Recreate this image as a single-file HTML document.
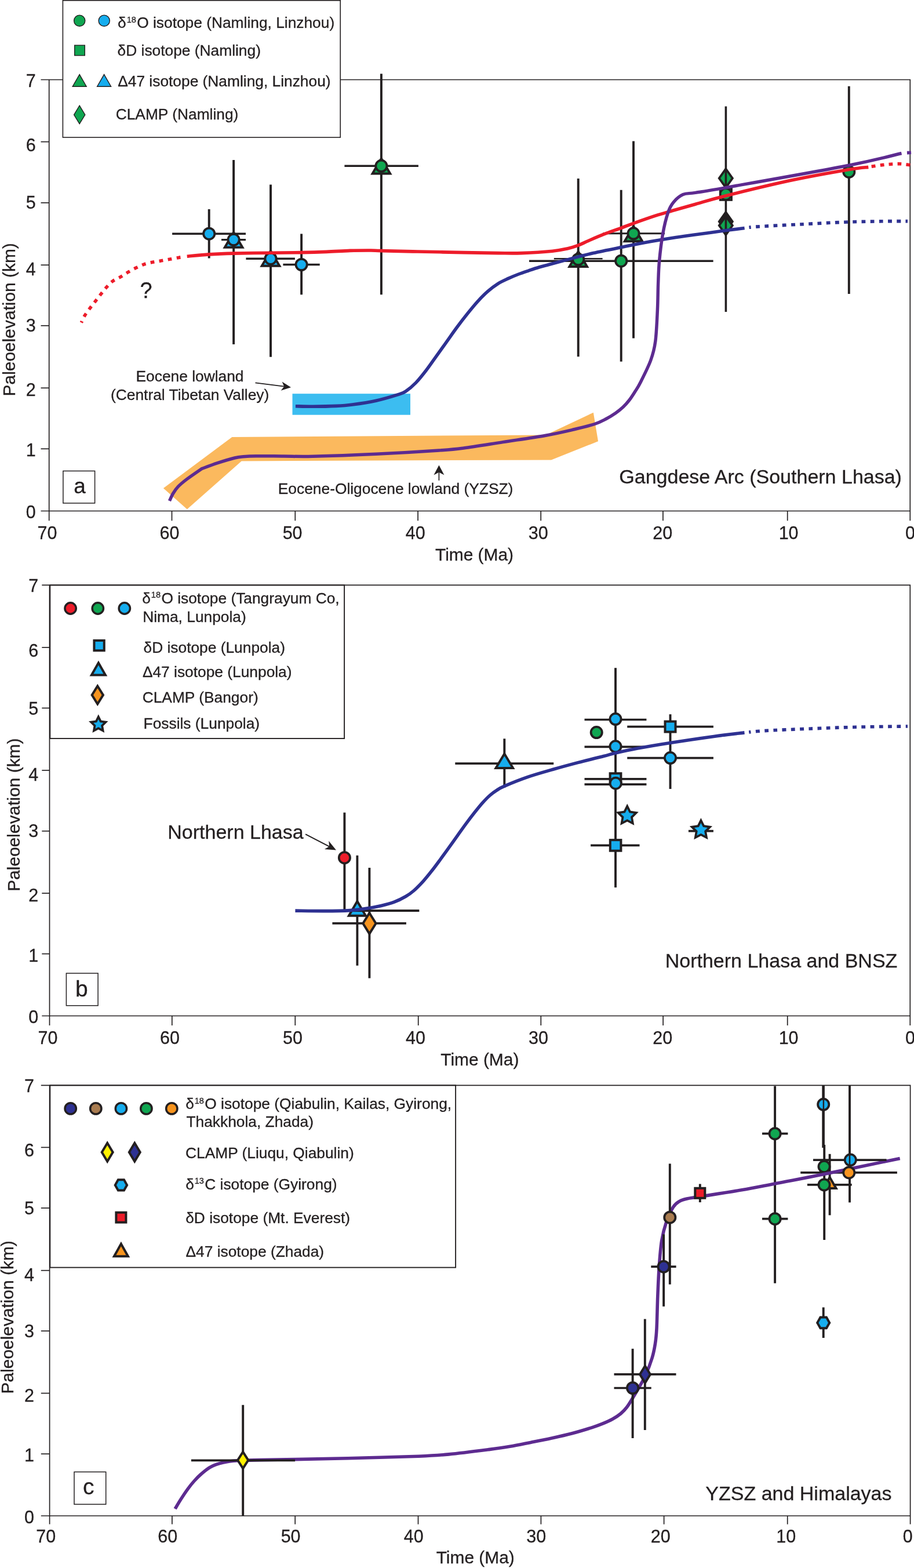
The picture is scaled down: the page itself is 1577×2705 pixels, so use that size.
<!DOCTYPE html>
<html lang="en"><head><meta charset="utf-8"><title>Paleoelevation history of the Gangdese Arc, northern Lhasa and Himalayas</title>
<style>html,body{margin:0;padding:0;background:#fff}body{width:1577px;height:2705px;overflow:hidden}svg{display:block}text{font-family:'Liberation Sans', 'DejaVu Sans', sans-serif;stroke:#231F20;stroke-width:0.3px}</style></head>
<body>
<svg width="1577" height="2705" viewBox="0 0 1577 2705">
<rect width="1577" height="2705" fill="#fff"/>
<g id="panel-a">
<path d="M281.9,842.2L400.4,754L941.6,750.4L1023.8,711.7L1032,761.3L951.1,793.4L416.7,795.4L322.8,878.4Z" fill="#FBB95E"/>
<rect x="504.5" y="679.2" width="203.5" height="36.5" fill="#3CBDF0"/>
<path d="M70.5,137.5 H1570.3 V898.3 H1570.3 M84.7,137.5 V898.3" fill="none" stroke="#231F20" stroke-width="1.7"/>
<path d="M70.5,881.5 H1570.3" fill="none" stroke="#231F20" stroke-width="1.7"/>
<line x1="70.5" y1="244.6" x2="84.7" y2="244.6" stroke="#231F20" stroke-width="1.7"/>
<line x1="70.5" y1="349.8" x2="84.7" y2="349.8" stroke="#231F20" stroke-width="1.7"/>
<line x1="70.5" y1="457.2" x2="84.7" y2="457.2" stroke="#231F20" stroke-width="1.7"/>
<line x1="70.5" y1="561.8" x2="84.7" y2="561.8" stroke="#231F20" stroke-width="1.7"/>
<line x1="70.5" y1="669.3" x2="84.7" y2="669.3" stroke="#231F20" stroke-width="1.7"/>
<line x1="70.5" y1="774.3" x2="84.7" y2="774.3" stroke="#231F20" stroke-width="1.7"/>
<line x1="296.5" y1="881.5" x2="296.5" y2="898.3" stroke="#231F20" stroke-width="1.7"/>
<line x1="509.3" y1="881.5" x2="509.3" y2="898.3" stroke="#231F20" stroke-width="1.7"/>
<line x1="721.1" y1="881.5" x2="721.1" y2="898.3" stroke="#231F20" stroke-width="1.7"/>
<line x1="933.2" y1="881.5" x2="933.2" y2="898.3" stroke="#231F20" stroke-width="1.7"/>
<line x1="1143.9" y1="881.5" x2="1143.9" y2="898.3" stroke="#231F20" stroke-width="1.7"/>
<line x1="1358.7" y1="881.5" x2="1358.7" y2="898.3" stroke="#231F20" stroke-width="1.7"/>
<text x="53.3" y="149.7" font-size="30.5" text-anchor="middle" fill="#231F20">7</text>
<text x="53.3" y="260.8" font-size="30.5" text-anchor="middle" fill="#231F20">6</text>
<text x="53.3" y="360.3" font-size="30.5" text-anchor="middle" fill="#231F20">5</text>
<text x="53.3" y="475.3" font-size="30.5" text-anchor="middle" fill="#231F20">4</text>
<text x="53.3" y="572.3" font-size="30.5" text-anchor="middle" fill="#231F20">3</text>
<text x="53.3" y="683.2" font-size="30.5" text-anchor="middle" fill="#231F20">2</text>
<text x="53.3" y="787.3" font-size="30.5" text-anchor="middle" fill="#231F20">1</text>
<text x="53.3" y="894" font-size="30.5" text-anchor="middle" fill="#231F20">0</text>
<text x="81.5" y="930" font-size="30.5" text-anchor="middle" fill="#231F20">70</text>
<text x="292.4" y="930" font-size="30.5" text-anchor="middle" fill="#231F20">60</text>
<text x="504.6" y="930" font-size="30.5" text-anchor="middle" fill="#231F20">50</text>
<text x="716.8" y="930" font-size="30.5" text-anchor="middle" fill="#231F20">40</text>
<text x="928.7" y="930" font-size="30.5" text-anchor="middle" fill="#231F20">30</text>
<text x="1143.3" y="930" font-size="30.5" text-anchor="middle" fill="#231F20">20</text>
<text x="1360.6" y="930" font-size="30.5" text-anchor="middle" fill="#231F20">10</text>
<text x="1570.4" y="930" font-size="30.5" text-anchor="middle" fill="#231F20">0</text>
<text x="751" y="967" font-size="29.9" text-anchor="start" fill="#231F20">Time (Ma)</text>
<text x="0" y="0" font-size="29.9" text-anchor="start" fill="#231F20" transform="translate(25.9,683.4) rotate(-90)">Paleoelevation (km)</text>
<rect x="108.4" y="0.8" width="478.8" height="236.2" fill="#fff" stroke="#231F20" stroke-width="1.6"/>
<circle cx="137.2" cy="35.7" r="9.6" fill="#10A651" stroke="#231F20" stroke-width="1.4"/>
<circle cx="179.7" cy="35.7" r="9.6" fill="#16ADEE" stroke="#231F20" stroke-width="1.4"/>
<rect x="128.7" y="78.1" width="17.6" height="17.6" fill="#10A651" stroke="#231F20" stroke-width="1.4"/>
<path d="M124,149.9L150.4,149.9L137.2,127.1Z" fill="#231F20"/>
<path d="M126.43,148.5L147.97,148.5L137.2,129.89Z" fill="#10A651"/>
<path d="M166.4,149.9L192.8,149.9L179.6,127.1Z" fill="#231F20"/>
<path d="M168.83,148.5L190.37,148.5L179.6,129.89Z" fill="#16ADEE"/>
<path d="M126.8,197.9L137.2,180.8L147.6,197.9L137.2,215Z" fill="#231F20"/>
<path d="M128.44,197.9L137.2,183.49L145.96,197.9L137.2,212.31Z" fill="#10A651"/>
<text x="203.1" y="48.2" font-size="26.33" fill="#231F20">δ<tspan font-size="14.6" dx="0.9" dy="-9.48">18</tspan><tspan dx="1.3" dy="9.48">O isotope (Namling, Linzhou)</tspan></text>
<text x="202.6" y="96.1" font-size="26.33" text-anchor="start" fill="#231F20">δD isotope (Namling)</text>
<text x="203.2" y="149.2" font-size="26.33" text-anchor="start" fill="#231F20">Δ47 isotope (Namling, Linzhou)</text>
<text x="199.7" y="206.1" font-size="26.33" text-anchor="start" fill="#231F20">CLAMP (Namling)</text>
<line x1="360.7" y1="360.9" x2="360.7" y2="445.5" stroke="#231F20" stroke-width="3.9"/>
<line x1="297.1" y1="403.2" x2="424" y2="403.2" stroke="#231F20" stroke-width="3.4"/>
<circle cx="360.7" cy="403.2" r="9.62" fill="#16ADEE" stroke="#231F20" stroke-width="3.75"/>
<line x1="403.1" y1="276" x2="403.1" y2="594.1" stroke="#231F20" stroke-width="3.9"/>
<line x1="382" y1="413.6" x2="424" y2="413.6" stroke="#231F20" stroke-width="3.4"/>
<path d="M384.35,428.8L421.85,428.8L403.1,396.8Z" fill="#231F20"/>
<path d="M391.33,424.8L414.87,424.8L403.1,404.71Z" fill="#16ADEE"/>
<circle cx="403.1" cy="413.6" r="9.62" fill="#16ADEE" stroke="#231F20" stroke-width="3.75"/>
<line x1="467" y1="318.4" x2="467" y2="615.7" stroke="#231F20" stroke-width="3.9"/>
<line x1="424.4" y1="446.2" x2="508.9" y2="446.2" stroke="#231F20" stroke-width="3.4"/>
<path d="M448.25,460.8L485.75,460.8L467,428.8Z" fill="#231F20"/>
<path d="M455.23,456.8L478.77,456.8L467,436.71Z" fill="#16ADEE"/>
<circle cx="467" cy="446.2" r="9.62" fill="#16ADEE" stroke="#231F20" stroke-width="3.75"/>
<line x1="520.1" y1="403.4" x2="520.1" y2="508.3" stroke="#231F20" stroke-width="3.9"/>
<line x1="488.4" y1="456.5" x2="551.7" y2="456.5" stroke="#231F20" stroke-width="3.4"/>
<circle cx="520.1" cy="456.5" r="9.62" fill="#16ADEE" stroke="#231F20" stroke-width="3.75"/>
<line x1="657.9" y1="127.2" x2="657.9" y2="508.3" stroke="#231F20" stroke-width="3.9"/>
<line x1="594.4" y1="286.3" x2="721.9" y2="286.3" stroke="#231F20" stroke-width="3.4"/>
<path d="M639.15,301.5L676.65,301.5L657.9,269.5Z" fill="#231F20"/>
<path d="M646.13,297.5L669.67,297.5L657.9,277.41Z" fill="#10A651"/>
<circle cx="657.9" cy="286.3" r="9.62" fill="#10A651" stroke="#231F20" stroke-width="3.75"/>
<line x1="1071.7" y1="327.7" x2="1071.7" y2="623.8" stroke="#231F20" stroke-width="3.9"/>
<line x1="913" y1="450.2" x2="1230.6" y2="450.2" stroke="#231F20" stroke-width="3.4"/>
<circle cx="1071.7" cy="450.2" r="9.62" fill="#10A651" stroke="#231F20" stroke-width="3.75"/>
<line x1="955.8" y1="446.2" x2="1039.6" y2="446.2" stroke="#231F20" stroke-width="2.4"/>
<line x1="997.7" y1="308.1" x2="997.7" y2="615.3" stroke="#231F20" stroke-width="3.9"/>
<path d="M978.95,462L1016.45,462L997.7,430Z" fill="#231F20"/>
<path d="M985.93,458L1009.47,458L997.7,437.91Z" fill="#10A651"/>
<circle cx="997.7" cy="447.4" r="9.62" fill="#10A651" stroke="#231F20" stroke-width="3.75"/>
<line x1="1093" y1="243.5" x2="1093" y2="583.5" stroke="#231F20" stroke-width="3.9"/>
<line x1="1040.2" y1="402.8" x2="1147" y2="402.8" stroke="#231F20" stroke-width="3"/>
<path d="M1074.25,418.2L1111.75,418.2L1093,386.2Z" fill="#231F20"/>
<path d="M1081.23,414.2L1104.77,414.2L1093,394.11Z" fill="#10A651"/>
<circle cx="1093" cy="402.8" r="9.62" fill="#10A651" stroke="#231F20" stroke-width="3.75"/>
<path d="M1238.45,307.4L1252.3,287.9L1266.15,307.4L1252.3,326.9Z" fill="#231F20"/>
<path d="M1243.11,307.4L1252.3,294.46L1261.49,307.4L1252.3,320.34Z" fill="#10A651"/>
<path d="M1238.45,382.3L1252.3,362.8L1266.15,382.3L1252.3,401.8Z" fill="#231F20"/>
<path d="M1242.38,382.3L1252.3,368.33L1262.22,382.3L1252.3,396.27Z" fill="#231F20"/>
<path d="M1238.45,389.1L1252.3,369.6L1266.15,389.1L1252.3,408.6Z" fill="#231F20"/>
<path d="M1243.11,389.1L1252.3,376.16L1261.49,389.1L1252.3,402.04Z" fill="#10A651"/>
<line x1="1252.4" y1="183.4" x2="1252.4" y2="538" stroke="#231F20" stroke-width="3.6"/>
<rect x="1242.5" y="325.4" width="19.8" height="19.8" fill="#10A651" stroke="#231F20" stroke-width="3.2"/>
<circle cx="1252.4" cy="335" r="9.5" fill="#10A651" stroke="#231F20" stroke-width="3"/>
<line x1="1464.8" y1="148.7" x2="1464.8" y2="507.1" stroke="#231F20" stroke-width="3.9"/>
<circle cx="1464.8" cy="296.4" r="9.62" fill="#10A651" stroke="#231F20" stroke-width="3.75"/>
<path d="M140.3,556.6C141.3,554.55 143.85,548.4 146.3,544.3C148.75,540.2 151.97,536.08 155,532C158.03,527.92 161.33,523.87 164.5,519.8C167.67,515.73 170.77,511.68 174,507.6C177.23,503.52 180.48,499.07 183.9,495.3C187.32,491.53 190.47,487.95 194.5,485C198.53,482.05 203.65,480.2 208.1,477.6C212.55,475 216.75,471.98 221.2,469.4C225.65,466.82 230.18,464.37 234.8,462.1C239.42,459.83 244.13,457.43 248.9,455.8C253.67,454.17 258.48,453.3 263.4,452.3C268.32,451.3 273.32,450.67 278.4,449.8C283.48,448.93 288.92,448 293.9,447.1C298.88,446.2 304.45,445.07 308.3,444.4C312.15,443.73 315.55,443.32 317,443.1" fill="none" stroke="#ED1C2A" stroke-width="5.6" stroke-dasharray="6.8,8.4" stroke-linejoin="round" stroke-dashoffset="4"/>
<path d="M322.7,442.2C329.03,441.65 347.32,439.75 360.7,438.9C374.08,438.05 385.28,437.55 403,437.1C420.72,436.65 447.5,436.45 467,436.2C486.5,435.95 503.93,435.9 520,435.6C536.07,435.3 549.4,434.93 563.4,434.4C577.4,433.87 591.23,432.8 604,432.4C616.77,432 631.02,431.97 640,432C648.98,432.03 644.57,432.27 657.9,432.6C671.23,432.93 696.32,433.5 720,434C743.68,434.5 776.67,435.17 800,435.6C823.33,436.03 843.33,436.43 860,436.6C876.67,436.77 884.48,437.17 900,436.6C915.52,436.03 939.83,434.52 953.1,433.2C966.37,431.88 972.23,430.33 979.6,428.7C986.97,427.07 991.4,425.6 997.3,423.4C1003.2,421.2 1007.62,418.7 1015,415.5C1022.38,412.3 1032.15,407.9 1041.6,404.2C1051.05,400.5 1063.15,396.45 1071.7,393.3C1080.25,390.15 1083.17,388.78 1092.9,385.3C1102.63,381.82 1118.92,376.03 1130.1,372.4C1141.28,368.77 1148.35,366.87 1160,363.5C1171.65,360.13 1184.6,356.5 1200,352.2C1215.4,347.9 1224.47,344.63 1252.4,337.7C1280.33,330.77 1332.2,318.13 1367.6,310.6C1403,303.07 1443.02,296.2 1464.8,292.5C1486.58,288.8 1492.72,289.08 1498.3,288.4" fill="none" stroke="#ED1C2A" stroke-width="5.6" stroke-linejoin="round"/>
<path d="M1498.3,288C1502.25,287.43 1515.05,285.43 1522,284.6C1528.95,283.77 1534.5,283.3 1540,283C1545.5,282.7 1549.83,282.5 1555,282.8C1560.17,283.1 1568.33,284.47 1571,284.8" fill="none" stroke="#ED1C2A" stroke-width="5.6" stroke-dasharray="6.8,8.2" stroke-linejoin="round" stroke-dashoffset="-5.5"/>
<path d="M509.9,700.7C514.92,700.8 528.32,701.35 540,701.3C551.68,701.25 568.67,700.95 580,700.4C591.33,699.85 596.52,699.53 608,698C619.48,696.47 635.73,694.1 648.9,691.2C662.07,688.3 678.48,683.28 687,680.6C695.52,677.92 694.88,678.52 700,675.1C705.12,671.68 711.8,666.15 717.7,660.1C723.6,654.05 729.5,646.47 735.4,638.8C741.3,631.13 747.2,622.35 753.1,614.1C759,605.85 764.9,597.57 770.8,589.3C776.7,581.03 782.6,572.47 788.5,564.5C794.4,556.53 800.3,548.87 806.2,541.5C812.1,534.13 818,526.78 823.9,520.3C829.8,513.82 835.7,507.77 841.6,502.6C847.5,497.43 853.4,493 859.3,489.3C865.2,485.6 871.1,483.12 877,480.4C882.9,477.68 888.8,475.27 894.7,473C900.6,470.73 906.5,468.8 912.4,466.8C918.3,464.8 924.2,462.77 930.1,461C936,459.23 938.07,458.8 947.8,456.2C957.53,453.6 975.82,448.68 988.5,445.4C1001.18,442.12 1010.03,439.63 1023.9,436.5C1037.77,433.37 1056.95,429.58 1071.7,426.6C1086.45,423.62 1097.68,421.27 1112.4,418.6C1127.12,415.93 1145.4,412.9 1160,410.6C1174.6,408.3 1184.6,406.97 1200,404.8C1215.4,402.63 1238.3,399.48 1252.4,397.6C1266.5,395.72 1279.23,394.18 1284.6,393.5" fill="none" stroke="#2E3192" stroke-width="5.6" stroke-linejoin="round"/>
<path d="M1284.6,393.5C1288,393.1 1288.9,392.18 1305,391.1C1321.1,390.02 1355.78,388.32 1381.2,387C1406.62,385.68 1434.37,384.07 1457.5,383.2C1480.63,382.33 1501.92,382.07 1520,381.8C1538.08,381.53 1558.33,381.63 1566,381.6" fill="none" stroke="#2E3192" stroke-width="5.6" stroke-dasharray="3.2,8.6,6.8,8.4,6.8,8.4,6.8,8.4,6.8,8.4,6.8,8.4,6.8,8.4,6.8,8.4,6.8,8.4,6.8,8.4,6.8,8.4,6.8,8.4,6.8,8.4,6.8,8.4,6.8,8.4,6.8,8.4,6.8,8.4,6.8,8.4,6.8,8.4" stroke-linejoin="round" stroke-dashoffset="-8"/>
<path d="M292.5,864.1C293.5,862 296.02,855.62 298.5,851.5C300.98,847.38 303.42,843.55 307.4,839.4C311.38,835.25 315.65,831.72 322.4,826.6C329.15,821.48 343.65,811.68 347.9,808.7C352.38,807.07 365.32,802.02 374.8,798.9C384.28,795.78 397.3,791.87 404.8,790C412.3,788.13 413.57,788.25 419.8,787.7C426.03,787.15 430.5,786.82 442.2,786.7C453.9,786.58 473.7,786.9 490,787C506.3,787.1 513.52,787.92 540,787.3C566.48,786.68 612.6,785.02 648.9,783.3C685.2,781.58 732.62,778.72 757.8,777C782.98,775.28 781.63,775.4 800,773C818.37,770.6 844.4,766.23 868,762.6C891.6,758.97 921.17,754.83 941.6,751.2C962.03,747.57 976.53,744.08 990.6,740.8C1004.67,737.52 1016.77,734.55 1026,731.5C1035.23,728.45 1040,725.62 1046,722.5C1052,719.38 1057.17,716.17 1062,712.8C1066.83,709.43 1071,706.1 1075,702.3C1079,698.5 1082.5,694.55 1086,690C1089.5,685.45 1092.83,680.05 1096,675C1099.17,669.95 1100.55,668.6 1105,659.7C1109.45,650.8 1118.4,633.4 1122.7,621.6C1127,609.8 1128.85,603.42 1130.8,588.9C1132.75,574.38 1133.6,550.98 1134.4,534.5C1135.2,518.02 1135.07,504.05 1135.6,490C1136.13,475.95 1136.27,464.63 1137.6,450.2C1138.93,435.77 1141.1,417.33 1143.6,403.4C1146.1,389.47 1149.53,375.68 1152.6,366.6C1155.67,357.52 1157.68,354.07 1162,348.9C1166.32,343.73 1172.17,338.35 1178.5,335.6C1184.83,332.85 1187.68,334.4 1200,332.4C1212.32,330.4 1208.27,331.47 1252.4,323.6C1296.53,315.73 1414.28,295.05 1464.8,285.2C1515.32,275.35 1540.38,267.95 1555.5,264.5" fill="none" stroke="#5D2B90" stroke-width="5.5" stroke-linejoin="round"/>
<line x1="1565" y1="263.6" x2="1572" y2="263.2" stroke="#5D2B90" stroke-width="5.6"/>
<text x="234.5" y="658.2" font-size="26.35" text-anchor="start" fill="#231F20">Eocene lowland</text>
<text x="191" y="689.9" font-size="26.35" text-anchor="start" fill="#231F20">(Central Tibetan Valley)</text>
<line x1="440.5" y1="660.4" x2="490.21" y2="666.71" stroke="#231F20" stroke-width="1.7"/>
<path d="M502,668.2L484.66,673.81L490.21,666.71L486.61,658.44Z" fill="#231F20"/>
<text x="479.8" y="852.3" font-size="26.35" text-anchor="start" fill="#231F20">Eocene-Oligocene lowland (YZSZ)</text>
<line x1="757.4" y1="828.9" x2="757.4" y2="814.64" stroke="#231F20" stroke-width="1.7"/>
<path d="M757.4,802.4L766.4,819.4L757.4,814.64L748.4,819.4Z" fill="#231F20"/>
<text x="241.5" y="514.4" font-size="38" text-anchor="start" fill="#231F20">?</text>
<text x="1068.3" y="833.7" font-size="34" text-anchor="start" fill="#231F20">Gangdese Arc (Southern Lhasa)</text>
<rect x="108.9" y="812.5" width="54.7" height="55.5" fill="none" stroke="#231F20" stroke-width="1.5"/>
<text x="127.3" y="851.4" font-size="37" text-anchor="start" fill="#231F20">a</text>
</g>
<g id="panel-b">
<path d="M72.3,1009.4 H1570.3 V1769 H1570.3 M85.5,1009.4 V1769" fill="none" stroke="#231F20" stroke-width="1.7"/>
<path d="M72.3,1752.5 H1570.3" fill="none" stroke="#231F20" stroke-width="1.7"/>
<line x1="72.3" y1="1116.9" x2="85.5" y2="1116.9" stroke="#231F20" stroke-width="1.7"/>
<line x1="72.3" y1="1221.5" x2="85.5" y2="1221.5" stroke="#231F20" stroke-width="1.7"/>
<line x1="72.3" y1="1328.9" x2="85.5" y2="1328.9" stroke="#231F20" stroke-width="1.7"/>
<line x1="72.3" y1="1433.7" x2="85.5" y2="1433.7" stroke="#231F20" stroke-width="1.7"/>
<line x1="72.3" y1="1540.9" x2="85.5" y2="1540.9" stroke="#231F20" stroke-width="1.7"/>
<line x1="72.3" y1="1645.5" x2="85.5" y2="1645.5" stroke="#231F20" stroke-width="1.7"/>
<line x1="296.8" y1="1752.5" x2="296.8" y2="1769" stroke="#231F20" stroke-width="1.7"/>
<line x1="509.3" y1="1752.5" x2="509.3" y2="1769" stroke="#231F20" stroke-width="1.7"/>
<line x1="721.7" y1="1752.5" x2="721.7" y2="1769" stroke="#231F20" stroke-width="1.7"/>
<line x1="933.3" y1="1752.5" x2="933.3" y2="1769" stroke="#231F20" stroke-width="1.7"/>
<line x1="1144.1" y1="1752.5" x2="1144.1" y2="1769" stroke="#231F20" stroke-width="1.7"/>
<line x1="1358.7" y1="1752.5" x2="1358.7" y2="1769" stroke="#231F20" stroke-width="1.7"/>
<text x="57.7" y="1021" font-size="30.5" text-anchor="middle" fill="#231F20">7</text>
<text x="57.7" y="1132.5" font-size="30.5" text-anchor="middle" fill="#231F20">6</text>
<text x="57.7" y="1232.6" font-size="30.5" text-anchor="middle" fill="#231F20">5</text>
<text x="57.7" y="1347" font-size="30.5" text-anchor="middle" fill="#231F20">4</text>
<text x="57.7" y="1444" font-size="30.5" text-anchor="middle" fill="#231F20">3</text>
<text x="57.7" y="1555" font-size="30.5" text-anchor="middle" fill="#231F20">2</text>
<text x="57.7" y="1658.6" font-size="30.5" text-anchor="middle" fill="#231F20">1</text>
<text x="57.7" y="1765.3" font-size="30.5" text-anchor="middle" fill="#231F20">0</text>
<text x="82.4" y="1801.4" font-size="30.5" text-anchor="middle" fill="#231F20">70</text>
<text x="293" y="1801.4" font-size="30.5" text-anchor="middle" fill="#231F20">60</text>
<text x="504.9" y="1801.4" font-size="30.5" text-anchor="middle" fill="#231F20">50</text>
<text x="717" y="1801.4" font-size="30.5" text-anchor="middle" fill="#231F20">40</text>
<text x="929" y="1801.4" font-size="30.5" text-anchor="middle" fill="#231F20">30</text>
<text x="1143.3" y="1801.4" font-size="30.5" text-anchor="middle" fill="#231F20">20</text>
<text x="1360.6" y="1801.4" font-size="30.5" text-anchor="middle" fill="#231F20">10</text>
<text x="1570.4" y="1801.4" font-size="30.5" text-anchor="middle" fill="#231F20">0</text>
<text x="760.3" y="1838" font-size="29.9" text-anchor="start" fill="#231F20">Time (Ma)</text>
<text x="0" y="0" font-size="29.9" text-anchor="start" fill="#231F20" transform="translate(33.6,1537.7) rotate(-90)">Paleoelevation (km)</text>
<rect x="86.3" y="1009.4" width="507.8" height="264.6" fill="none" stroke="#231F20" stroke-width="1.9"/>
<circle cx="121.6" cy="1049.5" r="9.65" fill="#ED1C2A" stroke="#231F20" stroke-width="3.5"/>
<circle cx="168.8" cy="1049.5" r="9.65" fill="#10A651" stroke="#231F20" stroke-width="3.5"/>
<circle cx="214.8" cy="1049.5" r="9.65" fill="#16ADEE" stroke="#231F20" stroke-width="3.5"/>
<rect x="162.45" y="1104.95" width="17.3" height="17.3" fill="#16ADEE" stroke="#231F20" stroke-width="4"/>
<path d="M154.5,1166.6L185.3,1166.6L169.9,1139.4Z" fill="#231F20"/>
<path d="M161.36,1162.6L178.44,1162.6L169.9,1147.52Z" fill="#16ADEE"/>
<path d="M156.3,1199L168.3,1179.8L180.3,1199L168.3,1218.2Z" fill="#231F20"/>
<path d="M161.02,1199L168.3,1187.35L175.58,1199L168.3,1210.65Z" fill="#F7941E"/>
<path d="M169.8,1232.2L174.97,1242.68L186.54,1244.36L178.17,1252.52L180.15,1264.04L169.8,1258.6L159.45,1264.04L161.43,1252.52L153.06,1244.36L164.63,1242.68Z" fill="#231F20"/>
<path d="M169.8,1240.79L172.45,1246.15L178.37,1247.01L174.09,1251.19L175.1,1257.09L169.8,1254.31L164.5,1257.09L165.51,1251.19L161.23,1247.01L167.15,1246.15Z" fill="#16ADEE"/>
<text x="245.3" y="1040.8" font-size="26.33" fill="#231F20">δ<tspan font-size="14.6" dx="0.9" dy="-9.48">18</tspan><tspan dx="1.3" dy="9.48">O isotope (Tangrayum Co,</tspan></text>
<text x="246.2" y="1072.7" font-size="26.33" text-anchor="start" fill="#231F20">Nima, Lunpola)</text>
<text x="247.5" y="1126" font-size="26.33" text-anchor="start" fill="#231F20">δD isotope (Lunpola)</text>
<text x="245.9" y="1167.5" font-size="26.33" text-anchor="start" fill="#231F20">Δ47 isotope (Lunpola)</text>
<text x="245.7" y="1212.2" font-size="26.33" text-anchor="start" fill="#231F20">CLAMP (Bangor)</text>
<text x="247.6" y="1257" font-size="26.33" text-anchor="start" fill="#231F20">Fossils (Lunpola)</text>
<line x1="870.3" y1="1274.3" x2="870.3" y2="1358.7" stroke="#231F20" stroke-width="3.9"/>
<line x1="785.3" y1="1317.1" x2="955.2" y2="1317.1" stroke="#231F20" stroke-width="3.7"/>
<line x1="1062" y1="1152.3" x2="1062" y2="1531.1" stroke="#231F20" stroke-width="3.9"/>
<line x1="1008.5" y1="1241.5" x2="1115.4" y2="1241.5" stroke="#231F20" stroke-width="3.7"/>
<line x1="1008.5" y1="1288.4" x2="1115.4" y2="1288.4" stroke="#231F20" stroke-width="3.7"/>
<line x1="1008.5" y1="1343.9" x2="1115.4" y2="1343.9" stroke="#231F20" stroke-width="3.7"/>
<line x1="1008.5" y1="1353.2" x2="1115.4" y2="1353.2" stroke="#231F20" stroke-width="3.7"/>
<line x1="1019.1" y1="1458.4" x2="1103.5" y2="1458.4" stroke="#231F20" stroke-width="3.7"/>
<line x1="1156.5" y1="1232.2" x2="1156.5" y2="1361.1" stroke="#231F20" stroke-width="3.9"/>
<line x1="1082.2" y1="1253.6" x2="1230.9" y2="1253.6" stroke="#231F20" stroke-width="3.7"/>
<line x1="1082.2" y1="1307.6" x2="1230.9" y2="1307.6" stroke="#231F20" stroke-width="3.7"/>
<line x1="1187.9" y1="1433.6" x2="1230.9" y2="1433.6" stroke="#231F20" stroke-width="3.7"/>
<line x1="594.4" y1="1401.8" x2="594.4" y2="1571" stroke="#231F20" stroke-width="3.9"/>
<line x1="616.4" y1="1475.8" x2="616.4" y2="1665.8" stroke="#231F20" stroke-width="3.9"/>
<line x1="560" y1="1571.1" x2="723.2" y2="1571.1" stroke="#231F20" stroke-width="3.7"/>
<line x1="637.4" y1="1497.1" x2="637.4" y2="1687.6" stroke="#231F20" stroke-width="3.9"/>
<line x1="573.4" y1="1592.9" x2="700.9" y2="1592.9" stroke="#231F20" stroke-width="3.7"/>
<path d="M598.4,1581.8L634.4,1581.8L616.4,1550.8Z" fill="#231F20"/>
<path d="M605.35,1577.8L627.45,1577.8L616.4,1558.77Z" fill="#16ADEE"/>
<line x1="590" y1="1571.1" x2="723.2" y2="1571.1" stroke="#231F20" stroke-width="3.7"/>
<path d="M852,1327L888.6,1327L870.3,1296.4Z" fill="#231F20"/>
<path d="M859.05,1323L881.55,1323L870.3,1304.19Z" fill="#16ADEE"/>
<circle cx="1062" cy="1240.6" r="9.62" fill="#16ADEE" stroke="#231F20" stroke-width="3.75"/>
<circle cx="1062" cy="1287.8" r="9.62" fill="#16ADEE" stroke="#231F20" stroke-width="3.75"/>
<rect x="1052.6" y="1334.2" width="18.8" height="18.8" fill="#16ADEE" stroke="#231F20" stroke-width="4"/>
<circle cx="1062.3" cy="1351.2" r="9.62" fill="#16ADEE" stroke="#231F20" stroke-width="3.75"/>
<rect x="1052.8" y="1449.1" width="18.6" height="18.6" fill="#16ADEE" stroke="#231F20" stroke-width="4"/>
<circle cx="1029.2" cy="1263.6" r="9.62" fill="#10A651" stroke="#231F20" stroke-width="3.75"/>
<rect x="1147.5" y="1244.6" width="18" height="18" fill="#16ADEE" stroke="#231F20" stroke-width="4"/>
<circle cx="1156.5" cy="1307.6" r="9.62" fill="#16ADEE" stroke="#231F20" stroke-width="3.75"/>
<path d="M1082.2,1386.6L1088.25,1398.87L1101.79,1400.83L1092,1410.38L1094.31,1423.87L1082.2,1417.5L1070.09,1423.87L1072.4,1410.38L1062.61,1400.83L1076.15,1398.87Z" fill="#231F20"/>
<path d="M1082.2,1395.19L1085.73,1402.34L1093.63,1403.49L1087.91,1409.06L1089.26,1416.92L1082.2,1413.21L1075.14,1416.92L1076.49,1409.06L1070.77,1403.49L1078.67,1402.34Z" fill="#16ADEE"/>
<path d="M1209.4,1411.1L1215.45,1423.37L1228.99,1425.33L1219.2,1434.88L1221.51,1448.37L1209.4,1442L1197.29,1448.37L1199.6,1434.88L1189.81,1425.33L1203.35,1423.37Z" fill="#231F20"/>
<path d="M1209.4,1419.69L1212.93,1426.84L1220.83,1427.99L1215.11,1433.56L1216.46,1441.42L1209.4,1437.71L1202.34,1441.42L1203.69,1433.56L1197.97,1427.99L1205.87,1426.84Z" fill="#16ADEE"/>
<circle cx="594.4" cy="1479.7" r="9.62" fill="#ED1C2A" stroke="#231F20" stroke-width="3.75"/>
<path d="M623.9,1592.9L637.4,1571.15L650.9,1592.9L637.4,1614.65Z" fill="#231F20"/>
<path d="M628.61,1592.9L637.4,1578.73L646.19,1592.9L637.4,1607.07Z" fill="#F7941E"/>
<path d="M509.4,1571.1C517.83,1571.18 544.33,1571.68 560,1571.6C575.67,1571.52 591.73,1571.27 603.4,1570.6C615.07,1569.93 620.93,1568.97 630,1567.6C639.07,1566.23 649.47,1564.3 657.8,1562.4C666.13,1560.5 672.97,1558.85 680,1556.2C687.03,1553.55 694.33,1549.78 700,1546.5C705.67,1543.22 709.02,1540.82 714,1536.5C718.98,1532.18 724.77,1526.25 729.9,1520.6C735.03,1514.95 739.82,1508.93 744.8,1502.6C749.78,1496.27 754.8,1489.38 759.8,1482.6C764.8,1475.82 769.8,1468.85 774.8,1461.9C779.8,1454.95 784.82,1447.85 789.8,1440.9C794.78,1433.95 799.72,1426.92 804.7,1420.2C809.68,1413.48 815.15,1406.37 819.7,1400.6C824.25,1394.83 827.72,1390.37 832,1385.6C836.28,1380.83 841.23,1375.7 845.4,1372C849.57,1368.3 852.83,1366.05 857,1363.4C861.17,1360.75 861.45,1359.93 870.4,1356.1C879.35,1352.27 896.72,1345.2 910.7,1340.4C924.68,1335.6 939.77,1331.47 954.3,1327.3C968.83,1323.13 983.38,1319.2 997.9,1315.4C1012.42,1311.6 1030.7,1307.23 1041.4,1304.5C1052.1,1301.77 1052.33,1301.25 1062.1,1299C1071.87,1296.75 1084.25,1293.93 1100,1291C1115.75,1288.07 1134.68,1284.83 1156.6,1281.4C1178.52,1277.97 1210.18,1273.32 1231.5,1270.4C1252.82,1267.48 1275.67,1264.98 1284.5,1263.9" fill="none" stroke="#2E3192" stroke-width="5.6" stroke-linejoin="round"/>
<path d="M1284.5,1263.9C1290.42,1263.35 1300.75,1261.75 1320,1260.6C1339.25,1259.45 1373.33,1258.07 1400,1257C1426.67,1255.93 1452.33,1254.87 1480,1254.2C1507.67,1253.53 1551.67,1253.2 1566,1253" fill="none" stroke="#2E3192" stroke-width="5.6" stroke-dasharray="3.2,8.6,6.8,8.4,6.8,8.4,6.8,8.4,6.8,8.4,6.8,8.4,6.8,8.4,6.8,8.4,6.8,8.4,6.8,8.4,6.8,8.4,6.8,8.4,6.8,8.4,6.8,8.4,6.8,8.4,6.8,8.4,6.8,8.4,6.8,8.4,6.8,8.4,6.8,8.4,6.8,8.4,6.8,8.4,6.8,8.4" stroke-linejoin="round" stroke-dashoffset="-8"/>
<text x="289.3" y="1447.4" font-size="34" text-anchor="start" fill="#231F20">Northern Lhasa</text>
<line x1="527.1" y1="1439.2" x2="568.15" y2="1460.31" stroke="#231F20" stroke-width="2"/>
<path d="M580,1466.4L559.89,1465.06L568.15,1460.31L567.21,1450.83Z" fill="#231F20"/>
<text x="1147.7" y="1669.3" font-size="34" text-anchor="start" fill="#231F20">Northern Lhasa and BNSZ</text>
<rect x="114.4" y="1679.0" width="54.7" height="55.8" fill="none" stroke="#231F20" stroke-width="1.5"/>
<text x="130" y="1719.2" font-size="39" text-anchor="start" fill="#231F20">b</text>
</g>
<g id="panel-c">
<path d="M70.8,1872.3 H1570.6 V2629.6 H1570.6 M85.6,1872.3 V2629.6" fill="none" stroke="#231F20" stroke-width="1.7"/>
<path d="M70.8,2615 H1570.6" fill="none" stroke="#231F20" stroke-width="1.7"/>
<line x1="70.8" y1="1979.4" x2="85.6" y2="1979.4" stroke="#231F20" stroke-width="1.7"/>
<line x1="70.8" y1="2084" x2="85.6" y2="2084" stroke="#231F20" stroke-width="1.7"/>
<line x1="70.8" y1="2191.7" x2="85.6" y2="2191.7" stroke="#231F20" stroke-width="1.7"/>
<line x1="70.8" y1="2296.1" x2="85.6" y2="2296.1" stroke="#231F20" stroke-width="1.7"/>
<line x1="70.8" y1="2403.5" x2="85.6" y2="2403.5" stroke="#231F20" stroke-width="1.7"/>
<line x1="70.8" y1="2508.2" x2="85.6" y2="2508.2" stroke="#231F20" stroke-width="1.7"/>
<line x1="296.9" y1="2615" x2="296.9" y2="2629.6" stroke="#231F20" stroke-width="1.7"/>
<line x1="509.2" y1="2615" x2="509.2" y2="2629.6" stroke="#231F20" stroke-width="1.7"/>
<line x1="721.5" y1="2615" x2="721.5" y2="2629.6" stroke="#231F20" stroke-width="1.7"/>
<line x1="933.4" y1="2615" x2="933.4" y2="2629.6" stroke="#231F20" stroke-width="1.7"/>
<line x1="1145.6" y1="2615" x2="1145.6" y2="2629.6" stroke="#231F20" stroke-width="1.7"/>
<line x1="1358.7" y1="2615" x2="1358.7" y2="2629.6" stroke="#231F20" stroke-width="1.7"/>
<text x="50.4" y="1884" font-size="30.5" text-anchor="middle" fill="#231F20">7</text>
<text x="50.4" y="1995.3" font-size="30.5" text-anchor="middle" fill="#231F20">6</text>
<text x="50.4" y="2094.7" font-size="30.5" text-anchor="middle" fill="#231F20">5</text>
<text x="50.4" y="2209.7" font-size="30.5" text-anchor="middle" fill="#231F20">4</text>
<text x="50.4" y="2307.3" font-size="30.5" text-anchor="middle" fill="#231F20">3</text>
<text x="50.4" y="2418.3" font-size="30.5" text-anchor="middle" fill="#231F20">2</text>
<text x="50.4" y="2521.3" font-size="30.5" text-anchor="middle" fill="#231F20">1</text>
<text x="50.4" y="2628" font-size="30.5" text-anchor="middle" fill="#231F20">0</text>
<text x="79.2" y="2660.5" font-size="30.5" text-anchor="middle" fill="#231F20">70</text>
<text x="289.2" y="2660.5" font-size="30.5" text-anchor="middle" fill="#231F20">60</text>
<text x="501.6" y="2660.5" font-size="30.5" text-anchor="middle" fill="#231F20">50</text>
<text x="713.7" y="2660.5" font-size="30.5" text-anchor="middle" fill="#231F20">40</text>
<text x="925.2" y="2660.5" font-size="30.5" text-anchor="middle" fill="#231F20">30</text>
<text x="1139.7" y="2660.5" font-size="30.5" text-anchor="middle" fill="#231F20">20</text>
<text x="1356.3" y="2660.5" font-size="30.5" text-anchor="middle" fill="#231F20">10</text>
<text x="1566.2" y="2660.5" font-size="30.5" text-anchor="middle" fill="#231F20">0</text>
<text x="752.7" y="2697.3" font-size="29.9" text-anchor="start" fill="#231F20">Time (Ma)</text>
<text x="0" y="0" font-size="29.9" text-anchor="start" fill="#231F20" transform="translate(22.5,2404.4) rotate(-90)">Paleoelevation (km)</text>
<rect x="86.3" y="1872.3" width="699.8" height="314.3" fill="none" stroke="#231F20" stroke-width="1.9"/>
<circle cx="121.7" cy="1912.4" r="9.65" fill="#2E3192" stroke="#231F20" stroke-width="3.5"/>
<circle cx="165.3" cy="1912.4" r="9.65" fill="#A97C50" stroke="#231F20" stroke-width="3.5"/>
<circle cx="208.9" cy="1912.4" r="9.65" fill="#16ADEE" stroke="#231F20" stroke-width="3.5"/>
<circle cx="252.4" cy="1912.4" r="9.65" fill="#10A651" stroke="#231F20" stroke-width="3.5"/>
<circle cx="296.3" cy="1912.4" r="9.65" fill="#F7941E" stroke="#231F20" stroke-width="3.5"/>
<path d="M173.4,1987.8L185.2,1968L197,1987.8L185.2,2007.6Z" fill="#231F20"/>
<path d="M178.06,1987.8L185.2,1975.81L192.34,1987.8L185.2,1999.79Z" fill="#FFF100"/>
<path d="M220.5,1987.8L232.3,1968L244.1,1987.8L232.3,2007.6Z" fill="#231F20"/>
<path d="M225.16,1987.8L232.3,1975.81L239.44,1987.8L232.3,1999.79Z" fill="#2E3192"/>
<path d="M196.4,2044.4L202.65,2033.25L215.15,2033.25L221.4,2044.4L215.15,2055.55L202.65,2055.55Z" fill="#231F20"/>
<path d="M200.99,2044.4L204.99,2037.25L212.81,2037.25L216.81,2044.4L212.81,2051.55L204.99,2051.55Z" fill="#16ADEE"/>
<rect x="200.4" y="2091.7" width="17" height="17" fill="#ED1C2A" stroke="#231F20" stroke-width="4"/>
<path d="M193.5,2169.2L224.3,2169.2L208.9,2141.8Z" fill="#231F20"/>
<path d="M200.34,2165.2L217.46,2165.2L208.9,2149.96Z" fill="#F7941E"/>
<text x="320.2" y="1913.2" font-size="26.33" fill="#231F20">δ<tspan font-size="14.6" dx="0.9" dy="-9.48">18</tspan><tspan dx="1.3" dy="9.48">O isotope (Qiabulin, Kailas, Gyirong,</tspan></text>
<text x="321.5" y="1943.9" font-size="26.33" text-anchor="start" fill="#231F20">Thakkhola, Zhada)</text>
<text x="320" y="1998.4" font-size="26.33" text-anchor="start" fill="#231F20">CLAMP (Liuqu, Qiabulin)</text>
<text x="320.2" y="2051.5" font-size="26.33" fill="#231F20">δ<tspan font-size="14.6" dx="0.9" dy="-9.48">13</tspan><tspan dx="1.3" dy="9.48">C isotope (Gyirong)</tspan></text>
<text x="320.2" y="2110.4" font-size="26.33" text-anchor="start" fill="#231F20">δD isotope (Mt. Everest)</text>
<text x="320.5" y="2167.6" font-size="26.33" text-anchor="start" fill="#231F20">Δ47 isotope (Zhada)</text>
<line x1="1420.6" y1="1873" x2="1420.6" y2="1980" stroke="#231F20" stroke-width="4.6"/>
<line x1="1422.2" y1="1975" x2="1422.2" y2="2138.9" stroke="#231F20" stroke-width="3.9"/>
<line x1="1392.9" y1="2043.9" x2="1469.7" y2="2043.9" stroke="#231F20" stroke-width="3.7"/>
<line x1="1381.2" y1="2022.9" x2="1547.9" y2="2022.9" stroke="#231F20" stroke-width="3.7"/>
<line x1="1431.6" y1="1990.8" x2="1431.6" y2="2096.4" stroke="#231F20" stroke-width="3.9"/>
<path d="M1417.1,2052L1446.1,2052L1431.6,2027Z" fill="#231F20"/>
<path d="M1424.04,2048L1439.16,2048L1431.6,2034.97Z" fill="#F7941E"/>
<circle cx="1422" cy="2012.6" r="9.62" fill="#10A651" stroke="#231F20" stroke-width="3.75"/>
<circle cx="1422" cy="2043.9" r="9.62" fill="#10A651" stroke="#231F20" stroke-width="3.75"/>
<line x1="1337.1" y1="1873.5" x2="1337.1" y2="2213.8" stroke="#231F20" stroke-width="3.9"/>
<path d="M302.1,2602.9C303.75,2600.17 308.37,2592.18 312,2586.5C315.63,2580.82 320.07,2574.05 323.9,2568.8C327.73,2563.55 331.15,2559.3 335,2555C338.85,2550.7 342.27,2547.05 347,2543C351.73,2538.95 357.03,2534.02 363.4,2530.7C369.77,2527.38 377.48,2524.92 385.2,2523.1C392.92,2521.28 398.9,2520.55 409.7,2519.8C420.5,2519.05 433.43,2518.97 450,2518.6C466.57,2518.23 484.1,2518.08 509.1,2517.6C534.1,2517.12 564.43,2516.6 600,2515.7C635.57,2514.8 693.45,2513.33 722.5,2512.2C751.55,2511.07 753.87,2510.87 774.3,2508.9C794.73,2506.93 827.48,2502.67 845.1,2500.4C862.72,2498.13 868.28,2497.3 880,2495.3C891.72,2493.3 903.6,2490.75 915.4,2488.4C927.2,2486.05 939,2483.77 950.8,2481.2C962.6,2478.63 974.4,2476.1 986.2,2473C998,2469.9 1012.75,2465.4 1021.6,2462.6C1030.45,2459.8 1033.4,2458.63 1039.3,2456.2C1045.2,2453.77 1051.68,2450.95 1057,2448C1062.32,2445.05 1067.07,2441.97 1071.2,2438.5C1075.33,2435.03 1078.27,2431.87 1081.8,2427.2C1085.33,2422.53 1088.87,2416.28 1092.4,2410.5C1095.93,2404.72 1099.5,2398.67 1103,2392.5C1106.5,2386.33 1109.73,2381.75 1113.4,2373.5C1117.07,2365.25 1122.15,2352.25 1125,2343C1127.85,2333.75 1129.17,2326.5 1130.5,2318C1131.83,2309.5 1132.28,2305.65 1133,2292C1133.72,2278.35 1134.08,2253.9 1134.8,2236.1C1135.52,2218.3 1136.17,2201.08 1137.3,2185.2C1138.43,2169.32 1139.5,2153.77 1141.6,2140.8C1143.7,2127.83 1146.58,2117.13 1149.9,2107.4C1153.22,2097.67 1157.82,2088.2 1161.5,2082.4C1165.18,2076.6 1168.08,2075 1172,2072.6C1175.92,2070.2 1178.9,2069.4 1185,2068C1191.1,2066.6 1192.77,2066.73 1208.6,2064.2C1224.43,2061.67 1258.58,2056.5 1280,2052.8C1301.42,2049.1 1313.43,2046.53 1337.1,2042C1360.77,2037.47 1386.07,2032.87 1422,2025.6C1457.93,2018.33 1530.92,2002.93 1552.7,1998.4" fill="none" stroke="#5D2B90" stroke-width="5.6" stroke-linejoin="round"/>
<line x1="419.2" y1="2423.7" x2="419.2" y2="2615" stroke="#231F20" stroke-width="3.9"/>
<line x1="329.9" y1="2519.3" x2="509.1" y2="2519.3" stroke="#231F20" stroke-width="3.7"/>
<line x1="1091.6" y1="2326.7" x2="1091.6" y2="2481.1" stroke="#231F20" stroke-width="3.9"/>
<line x1="1059.5" y1="2394.5" x2="1123.7" y2="2394.5" stroke="#231F20" stroke-width="3.7"/>
<line x1="1112.8" y1="2275.6" x2="1112.8" y2="2466.9" stroke="#231F20" stroke-width="3.9"/>
<line x1="1059.5" y1="2370.8" x2="1166.5" y2="2370.8" stroke="#231F20" stroke-width="3.7"/>
<line x1="1145.1" y1="2129.4" x2="1145.1" y2="2253.8" stroke="#231F20" stroke-width="3.9"/>
<line x1="1123.3" y1="2185.2" x2="1166.6" y2="2185.2" stroke="#231F20" stroke-width="3.7"/>
<line x1="1155.8" y1="2007.4" x2="1155.8" y2="2215.7" stroke="#231F20" stroke-width="3.9"/>
<line x1="1207.8" y1="2042.5" x2="1207.8" y2="2074.1" stroke="#231F20" stroke-width="3.9"/>
<line x1="1315" y1="1955.7" x2="1359.4" y2="1955.7" stroke="#231F20" stroke-width="3.7"/>
<line x1="1315" y1="2102.7" x2="1359.4" y2="2102.7" stroke="#231F20" stroke-width="3.7"/>
<line x1="1466" y1="1873" x2="1466" y2="2074.4" stroke="#231F20" stroke-width="3.9"/>
<line x1="1403" y1="2001.1" x2="1529.6" y2="2001.1" stroke="#231F20" stroke-width="3.7"/>
<line x1="1420.7" y1="2255.4" x2="1420.7" y2="2308" stroke="#231F20" stroke-width="3.9"/>
<path d="M407.7,2519L419.2,2501L430.7,2519L419.2,2537Z" fill="#231F20"/>
<path d="M412.45,2519L419.2,2508.43L425.95,2519L419.2,2529.57Z" fill="#FFF100"/>
<circle cx="1091.6" cy="2394.5" r="9.62" fill="#2E3192" stroke="#231F20" stroke-width="3.75"/>
<path d="M1101.7,2370.9L1113,2352.4L1124.3,2370.9L1113,2389.4Z" fill="#231F20"/>
<path d="M1106.39,2370.9L1113,2360.07L1119.61,2370.9L1113,2381.73Z" fill="#2E3192"/>
<circle cx="1145.1" cy="2185.2" r="9.62" fill="#2E3192" stroke="#231F20" stroke-width="3.75"/>
<circle cx="1155.8" cy="2100.2" r="9.62" fill="#A97C50" stroke="#231F20" stroke-width="3.75"/>
<rect x="1199.3" y="2049.8" width="17" height="17" fill="#ED1C2A" stroke="#231F20" stroke-width="4"/>
<circle cx="1337.1" cy="1955.7" r="9.62" fill="#10A651" stroke="#231F20" stroke-width="3.75"/>
<circle cx="1337.1" cy="2102.7" r="9.62" fill="#10A651" stroke="#231F20" stroke-width="3.75"/>
<circle cx="1420.7" cy="1905.3" r="9.62" fill="#16ADEE" stroke="#231F20" stroke-width="3.75"/>
<line x1="1420.9" y1="1894" x2="1420.9" y2="1917" stroke="#231F20" stroke-width="2.4"/>
<circle cx="1467.3" cy="2001.1" r="9.62" fill="#16ADEE" stroke="#231F20" stroke-width="3.75"/>
<line x1="1466" y1="1990" x2="1466" y2="2012.5" stroke="#231F20" stroke-width="2.6"/>
<circle cx="1464.8" cy="2022.9" r="9.62" fill="#F7941E" stroke="#231F20" stroke-width="3.75"/>
<path d="M1407.9,2281.9L1414.3,2270.6L1427.1,2270.6L1433.5,2281.9L1427.1,2293.2L1414.3,2293.2Z" fill="#231F20"/>
<path d="M1412.5,2281.9L1416.63,2274.6L1424.77,2274.6L1428.9,2281.9L1424.77,2289.2L1416.63,2289.2Z" fill="#16ADEE"/>
<text x="1217.3" y="2588.3" font-size="34" text-anchor="start" fill="#231F20">YZSZ and Himalayas</text>
<rect x="128.0" y="2539.3" width="54.7" height="55.8" fill="none" stroke="#231F20" stroke-width="1.5"/>
<text x="143" y="2578.3" font-size="39" text-anchor="start" fill="#231F20">c</text>
</g>
</svg>
</body></html>
